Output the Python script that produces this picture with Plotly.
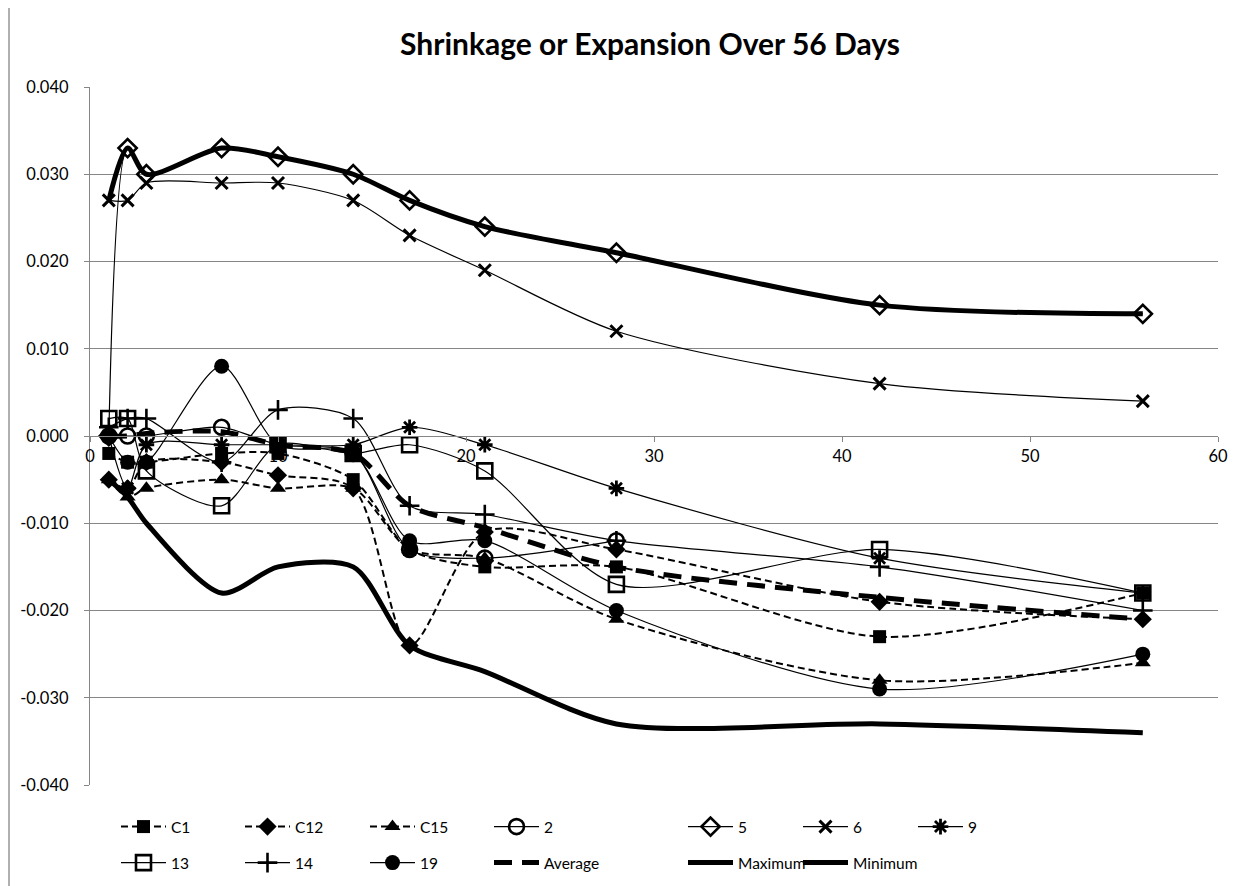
import plotly.graph_objects as go

days = [1, 2, 3, 7, 10, 14, 17, 21, 28, 42, 56]
C1 = [-0.002, -0.003, -0.003, -0.002, -0.002, -0.005, -0.013, -0.015, -0.015, -0.023, -0.018]
C12 = [-0.005, -0.006, -0.003, -0.003, -0.0045, -0.006, -0.024, -0.011, -0.013, -0.019, -0.021]
C15 = [-0.005, -0.007, -0.006, -0.005, -0.006, -0.006, -0.013, -0.014, -0.021, -0.028, -0.026]
S2 = [0.000, 0.000, 0.000, 0.001, -0.001, -0.002, -0.013, -0.014, -0.012, None, None]
S5 = [0.000, 0.033, 0.030, 0.033, 0.032, 0.030, 0.027, 0.024, 0.021, 0.015, 0.014]
S6 = [0.027, 0.027, 0.029, 0.029, 0.029, 0.027, 0.023, 0.019, 0.012, 0.006, 0.004]
S9 = [0.000, -0.006, -0.001, -0.001, -0.001, -0.001, 0.001, -0.001, -0.006, -0.014, -0.018]
S13 = [0.002, 0.002, -0.004, -0.008, -0.001, -0.002, -0.001, -0.004, -0.017, -0.013, -0.018]
S14 = [0.001, 0.002, 0.002, -0.003, 0.003, 0.002, -0.008, -0.009, -0.012, -0.015, -0.020]
S19 = [0.000, -0.003, -0.003, 0.008, -0.001, -0.002, -0.012, -0.012, -0.020, -0.029, -0.025]
AVG = [0.000, 0.000, 0.0003, 0.0005, -0.001, -0.002, -0.008, -0.0105, -0.015, -0.0185, -0.021]
MAX = [0.027, 0.033, 0.030, 0.033, 0.032, 0.030, 0.027, 0.024, 0.021, 0.015, 0.014]
MIN = [-0.005, -0.007, -0.010, -0.018, -0.015, -0.015, -0.024, -0.027, -0.033, -0.033, -0.034]

ytick_vals = [-0.04, -0.03, -0.02, -0.01, 0.0, 0.01, 0.02, 0.03, 0.04]
ytick_text = ["-0.040", "-0.030", "-0.020", "-0.010", "0.000", "0.010", "0.020", "0.030", "0.040"]
xtick_vals = [0, 10, 20, 30, 40, 50, 60]
xtick_text = ["0", "10", "20", "30", "40", "50", "60"]

# page body adds an 8px offset; work in figure pixels = screen pixels - OFF
OFF = 8
W, H = 1250 - OFF, 886 - OFF
L, R, T, B = 90 - OFF, 1218 - OFF, 87 - OFF, 785 - OFF

series = [
    ("C1", C1, "square", 13, 0, "7px,4px", 2),
    ("C12", C12, "diamond", 14, 0, "7px,4px", 2),
    ("C15", C15, "triangle-up", 14, 0, "7px,4px", 2),
    ("2", S2, "circle-open", 15, 2.6, "solid", 1.2),
    ("5", S5, "diamond-open", 14, 2.6, "solid", 1.2),
    ("6", S6, "x-thin", 12, 3, "solid", 1.2),
    ("9", S9, "asterisk", 13, 2.8, "solid", 1.2),
    ("13", S13, "square-open", 15, 2.6, "solid", 1.2),
    ("14", S14, "cross-thin", 14, 2.6, "solid", 1.2),
    ("19", S19, "circle", 15, 0, "solid", 1.2),
]

# legend item positions (screen px): (symbol-left x, center y)
leg_cols = [120, 244, 369, 493, 687, 802, 917]
leg_rows = [826, 862]
leg_pos = [
    (leg_cols[0], leg_rows[0]), (leg_cols[1], leg_rows[0]), (leg_cols[2], leg_rows[0]),
    (leg_cols[3], leg_rows[0]), (leg_cols[4], leg_rows[0]), (leg_cols[5], leg_rows[0]),
    (leg_cols[6], leg_rows[0]),
    (leg_cols[0], leg_rows[1]), (leg_cols[1], leg_rows[1]), (leg_cols[2], leg_rows[1]),
    (leg_cols[3], leg_rows[1]), (leg_cols[4], leg_rows[1]), (leg_cols[5], leg_rows[1]),
]

fig = go.Figure()
legends = {}


def legend_key(i):
    return "legend" if i == 0 else f"legend{i + 1}"


for i, (name, vals, sym, size, mlw, dash, lw) in enumerate(series):
    fig.add_trace(go.Scatter(
        x=days, y=vals, name=name, mode="lines+markers",
        line=dict(color="black", width=lw, dash=dash, shape="spline", smoothing=0.8),
        marker=dict(symbol=sym, size=size, color="black",
                    line=dict(color="black", width=mlw)),
        legend=legend_key(i), connectgaps=False,
    ))

extra = [
    ("Average", AVG, "18px,10px", 5),
    ("Maximum", MAX, "solid", 5),
    ("Minimum", MIN, "solid", 5),
]
for j, (name, vals, dash, lw) in enumerate(extra):
    i = len(series) + j
    fig.add_trace(go.Scatter(
        x=days, y=vals, name=name, mode="lines",
        line=dict(color="black", width=lw, dash=dash, shape="spline", smoothing=0.8),
        legend=legend_key(i),
    ))

for i, (px, py) in enumerate(leg_pos):
    fx = px - OFF - 4
    fy = py - OFF + 1
    legends[legend_key(i)] = dict(
        x=(fx - L) / (R - L), y=(B - fy) / (B - T),
        xanchor="left", yanchor="middle", orientation="h",
        bgcolor="rgba(0,0,0,0)", borderwidth=0, itemwidth=45,
        font=dict(family="Lato", size=15.5, color="black"),
    )

fig.update_layout(
    width=W, height=H,
    margin=dict(l=L, r=W - R, t=T, b=H - B, autoexpand=False),
    paper_bgcolor="white", plot_bgcolor="white",
    title=dict(text="<b>Shrinkage or Expansion Over 56 Days</b>",
               x=(650 - OFF) / W, xanchor="center", y=1 - 36 / H, yanchor="middle",
               font=dict(family="Lato", size=30, color="black")),
    showlegend=True,
    **legends,
)

fig.update_xaxes(
    range=[0, 60], tickvals=xtick_vals, ticktext=xtick_text,
    showgrid=False, zeroline=False, showline=True, linecolor="#868686", linewidth=1.3,
    ticks="outside", ticklen=5, tickcolor="#868686",
    anchor="free", position=0.5,
    tickfont=dict(family="Lato", size=16.5, color="black"),
)
fig.update_yaxes(
    range=[-0.04, 0.04], tickvals=ytick_vals, ticktext=ytick_text,
    showgrid=True, gridcolor="#868686", gridwidth=1.3,
    zeroline=False, showline=True, linecolor="#868686", linewidth=1.3,
    ticks="outside", ticklen=5, tickcolor="#868686", ticklabelstandoff=12,
    tickfont=dict(family="Lato", size=16.5, color="black"),
)

fig.add_shape(type="line", xref="paper", yref="paper",
              x0=-(L - 1) / (R - L), x1=-(L - 1) / (R - L), y0=-(H - B) / (B - T), y1=1 + T / (B - T),
              line=dict(color="#868686", width=1.3))

fig.write_html("out.html")
